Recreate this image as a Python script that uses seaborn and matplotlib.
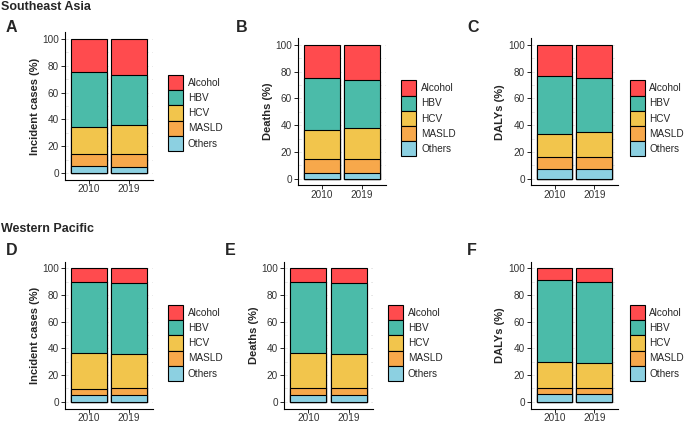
import matplotlib
matplotlib.use("Agg")
import matplotlib.pyplot as plt
from matplotlib.patches import Patch
from matplotlib.ticker import MultipleLocator
import seaborn as sns
import numpy as np
import pandas as pd

# --- data (percent share of each cause, bottom -> top) ---
years = ["2010", "2019"]
causes = ["Others", "MASLD", "HCV", "HBV", "Alcohol"]
colors = {"Alcohol": "#FF4B4E", "HBV": "#4BBBA9", "HCV": "#F2C54C",
          "MASLD": "#F7A84B", "Others": "#8CD0E1"}

sea_incident = {"Others": [5.0, 4.5], "MASLD": [9.0, 10.0], "HCV": [20.5, 21.5],
                "HBV": [40.5, 37.5], "Alcohol": [25.0, 26.5]}
sea_deaths = {"Others": [4.5, 4.0], "MASLD": [10.0, 10.5], "HCV": [21.5, 23.0],
              "HBV": [39.0, 36.0], "Alcohol": [25.0, 26.5]}
sea_dalys = {"Others": [7.5, 7.0], "MASLD": [9.0, 9.0], "HCV": [17.0, 18.5],
             "HBV": [43.5, 41.0], "Alcohol": [23.0, 24.5]}
wp_incident = {"Others": [5.0, 5.0], "MASLD": [4.5, 5.0], "HCV": [27.0, 25.5],
               "HBV": [53.5, 53.5], "Alcohol": [10.0, 11.0]}
wp_deaths = {"Others": [5.0, 5.0], "MASLD": [5.0, 5.5], "HCV": [26.5, 25.5],
             "HBV": [53.5, 53.0], "Alcohol": [10.0, 11.0]}
wp_dalys = {"Others": [6.0, 5.5], "MASLD": [4.0, 5.0], "HCV": [19.5, 18.5],
            "HBV": [61.5, 61.0], "Alcohol": [9.0, 10.0]}

sns.set_theme(style="white")
plt.rcParams["font.family"] = ["Liberation Sans", "DejaVu Sans"]

W, H = 685, 423
fig = plt.figure(figsize=(W / 100, H / 100), dpi=100)


def px_axes(x0, x1, top, bottom):
    return fig.add_axes([x0 / W, 1 - bottom / H, (x1 - x0) / W, (bottom - top) / H])


def draw_panel(ax, data, ylabel, letter, letter_xy, legend_xy, textpad=0.55):
    df = pd.DataFrame(data, index=years)[causes]
    cum = df.cumsum(axis=1)
    long = cum.reset_index().melt(id_vars="index", var_name="cause", value_name="top")
    long = long.rename(columns={"index": "year"})
    # draw cumulative layers from the top cause down so lower ones sit over
    for cause in causes[::-1]:
        sub = long[long["cause"] == cause]
        sns.barplot(data=sub, x="year", y="top", color=colors[cause], order=years,
                    width=0.9, edgecolor="black", linewidth=0.8, saturation=1,
                    errorbar=None, ax=ax)
    ax.set_xlim(-0.6, 1.6)
    ax.set_ylim(-5, 105)
    ax.set_yticks([0, 20, 40, 60, 80, 100])
    ax.yaxis.set_minor_locator(MultipleLocator(10))
    ax.set_axisbelow(True)
    ax.grid(which="both", axis="y", ls=(0, (4, 4)), color="#E3E3E3", lw=0.6)
    for s in ["top", "right"]:
        ax.spines[s].set_visible(False)
    for s in ["left", "bottom"]:
        ax.spines[s].set_color("black")
        ax.spines[s].set_linewidth(0.8)
    ax.tick_params(axis="both", which="major", length=3, width=0.6, color="black",
                   labelsize=7.2, labelcolor="#333333", pad=1.2, left=True, bottom=True)
    ax.tick_params(axis="x", pad=0.3)
    ax.tick_params(axis="y", which="minor", length=0)
    ax.set_xlabel("")
    ax.set_ylabel(ylabel, fontsize=8, fontweight="bold", labelpad=2)
    fig.text(letter_xy[0] / W, 1 - letter_xy[1] / H, letter, fontsize=11.5,
             fontweight="bold", ha="left", va="center")
    handles = [Patch(facecolor=colors[c], edgecolor="black", linewidth=0.8)
               for c in causes[::-1]]
    fig.legend(handles, causes[::-1], loc="upper left",
               bbox_to_anchor=(legend_xy[0] / W, 1 - legend_xy[1] / H),
               frameon=False, fontsize=7.2, handlelength=1.45, handleheight=1.96,
               labelspacing=0, handletextpad=textpad, borderpad=0, borderaxespad=0)


fig.text(1 / W, 1 - 7 / H, "Southeast Asia", fontsize=9, fontweight="bold",
         ha="left", va="center")
fig.text(1 / W, 1 - 229 / H, "Western Pacific", fontsize=9, fontweight="bold",
         ha="left", va="center")

draw_panel(px_axes(65, 153, 32.3, 179.7), sea_incident, "Incident cases (%)", "A",
           (6, 27), (168, 75))
draw_panel(px_axes(298, 386, 38, 185.4), sea_deaths, "Deaths (%)", "B",
           (236, 27), (401, 80.5))
draw_panel(px_axes(530.7, 618, 38, 185.4), sea_dalys, "DALYs (%)", "C",
           (467, 27), (630, 80.5), textpad=0.45)
draw_panel(px_axes(65, 153, 261.5, 408.5), wp_incident, "Incident cases (%)", "D",
           (6, 250), (168, 305))
draw_panel(px_axes(284, 373, 261.5, 408.5), wp_deaths, "Deaths (%)", "E",
           (225, 250), (388, 305))
draw_panel(px_axes(530.7, 618, 261.5, 408.5), wp_dalys, "DALYs (%)", "F",
           (467, 250), (630, 305), textpad=0.45)

fig.savefig("out.png", dpi=100)
